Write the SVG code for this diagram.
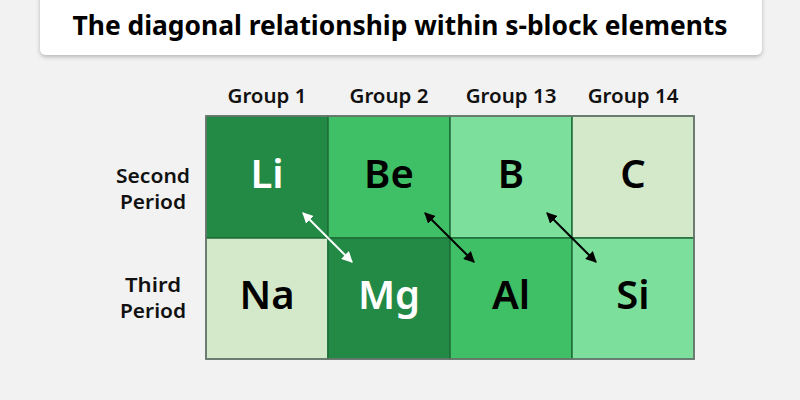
<svg xmlns="http://www.w3.org/2000/svg" width="800" height="400" viewBox="0 0 800 400">
<defs>
<filter id="sh" x="-5%" y="-30%" width="110%" height="170%"><feDropShadow dx="0" dy="2" stdDeviation="2" flood-color="#000" flood-opacity="0.25"/></filter>
<marker id="aw" viewBox="0 0 10 10" refX="9" refY="5" markerWidth="5.5" markerHeight="5.5" orient="auto-start-reverse"><path d="M0,0 L10,5 L0,10 z" fill="#fff"/></marker>
<marker id="ab" viewBox="0 0 10 10" refX="9" refY="5" markerWidth="5.5" markerHeight="5.5" orient="auto-start-reverse"><path d="M0,0 L10,5 L0,10 z" fill="#000"/></marker>
</defs>
<style>
text{font-family:"Noto Sans","Open Sans",sans-serif;}
.t{font-size:26px;font-weight:700;fill:#000;}
.h{font-size:20.5px;font-weight:600;fill:#111;text-anchor:middle;}
.r{font-size:19.5px;font-weight:600;fill:#111;text-anchor:middle;}
.e{font-size:40px;font-weight:600;text-anchor:middle;}
.c{stroke:#1e6e38;stroke-width:1.5;}
</style>
<rect width="800" height="400" fill="#f2f2f2"/>
<g id="title"><rect x="40" y="-10" width="722" height="65" rx="6" fill="#fff" filter="url(#sh)"/>
<text class="t" x="400" y="35" text-anchor="middle" textLength="655" lengthAdjust="spacingAndGlyphs">The diagonal relationship within s-block elements</text></g>
<g id="headers">
<text class="h" x="267" y="103">Group 1</text>
<text class="h" x="389" y="103">Group 2</text>
<text class="h" x="511" y="103">Group 13</text>
<text class="h" x="633" y="103">Group 14</text>
<text class="r" x="153" y="183" textLength="74" lengthAdjust="spacingAndGlyphs">Second</text>
<text class="r" x="153" y="209" textLength="66" lengthAdjust="spacingAndGlyphs">Period</text>
<text class="r" x="153" y="292" textLength="56" lengthAdjust="spacingAndGlyphs">Third</text>
<text class="r" x="153" y="318" textLength="66" lengthAdjust="spacingAndGlyphs">Period</text>
</g>
<g id="Li"><rect class="c" x="206" y="116" width="122" height="122" fill="#238a45"/><text class="e" x="267" y="188" fill="#fff">Li</text></g>
<g id="Be"><rect class="c" x="328" y="116" width="122" height="122" fill="#3fbf66"/><text class="e" x="389" y="188" fill="#000">Be</text></g>
<g id="B"><rect class="c" x="450" y="116" width="122" height="122" fill="#7ddf9c"/><text class="e" x="511" y="188" fill="#000">B</text></g>
<g id="C"><rect class="c" x="572" y="116" width="122" height="122" fill="#d4e9c9"/><text class="e" x="633" y="188" fill="#000">C</text></g>
<g id="Na"><rect class="c" x="206" y="238" width="122" height="121" fill="#d4e9c9"/><text class="e" x="267" y="309" fill="#000">Na</text></g>
<g id="Mg"><rect class="c" x="328" y="238" width="122" height="121" fill="#238a45"/><text class="e" x="389" y="309" fill="#fff">Mg</text></g>
<g id="Al"><rect class="c" x="450" y="238" width="122" height="121" fill="#3fbf66"/><text class="e" x="511" y="309" fill="#000">Al</text></g>
<g id="Si"><rect class="c" x="572" y="238" width="122" height="121" fill="#7ddf9c"/><text class="e" x="633" y="309" fill="#000">Si</text></g>
<rect x="206" y="116" width="488" height="243" fill="none" stroke="#777" stroke-width="1.5"/>
<g id="connectors" stroke-width="2">
<line x1="303" y1="213" x2="352" y2="262" stroke="#fff" marker-start="url(#aw)" marker-end="url(#aw)"/>
<line x1="425" y1="213" x2="474" y2="262" stroke="#000" marker-start="url(#ab)" marker-end="url(#ab)"/>
<line x1="547" y1="213" x2="596" y2="262" stroke="#000" marker-start="url(#ab)" marker-end="url(#ab)"/>
</g>
</svg>
